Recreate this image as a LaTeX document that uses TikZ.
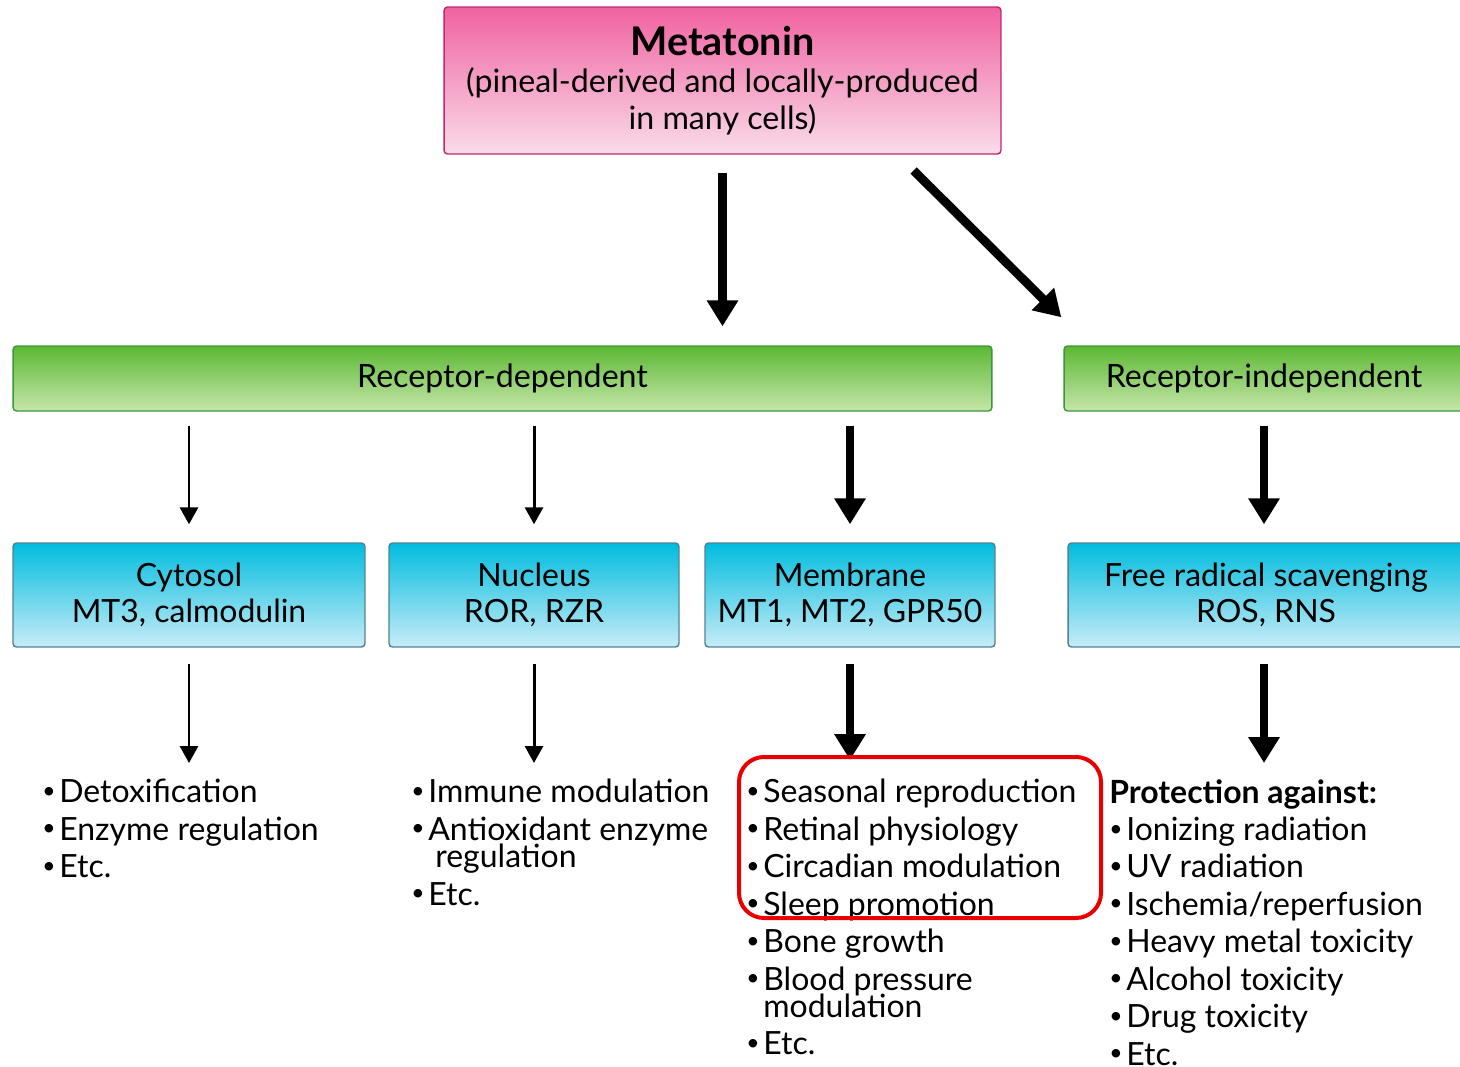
\documentclass[tikz,border=0pt]{standalone}
\usepackage{fontspec}
\setmainfont{Lato}
\usetikzlibrary{arrows.meta}
\definecolor{pinktop}{RGB}{240,98,160}
\definecolor{pinkbot}{RGB}{250,220,234}
\definecolor{pinkline}{RGB}{190,40,110}
\definecolor{greentop}{RGB}{92,184,52}
\definecolor{greenbot}{RGB}{198,230,170}
\definecolor{greenline}{RGB}{60,150,60}
\definecolor{bluetop}{RGB}{0,188,222}
\definecolor{bluebot}{RGB}{200,236,247}
\definecolor{blueline}{RGB}{80,130,150}
\definecolor{redline}{RGB}{232,0,0}
\newcommand{\bul}{\makebox[0.34cm][l]{\raisebox{0.14em}{\fontsize{13}{13}\selectfont\textbullet}}}
\newcommand{\cnt}{\hspace*{0.48cm}}
\tikzset{
  pinkbox/.style={draw=pinkline, line width=0.8pt, rounded corners=2pt, top color=pinktop, bottom color=pinkbot, align=center, font=\fontsize{18.3}{21}\selectfont},
  greenbox/.style={draw=greenline, line width=0.8pt, rounded corners=2pt, top color=greentop, bottom color=greenbot, minimum height=1.3cm, font=\fontsize{18.3}{20}\selectfont},
  bluebox/.style={draw=blueline, line width=0.8pt, rounded corners=2pt, top color=bluetop, bottom color=bluebot, minimum height=2.08cm, align=center, font=\fontsize{18.2}{20.8}\selectfont},
  bigarrow/.style={line width=5pt, -{Triangle[width=0.6cm,length=0.52cm]}},
  thinarrow/.style={line width=1.7pt, -{Triangle[width=0.36cm,length=0.34cm]}},
  itemlist/.style={anchor=north west, inner sep=0pt, align=left, font=\fontsize{18.2}{21.3}\selectfont}
}
\begin{document}
\begin{tikzpicture}[x=0.02cm,y=-0.02cm]
\useasboundingbox (0,0) rectangle (1460,1067);
\clip (0,0) rectangle (1460,1067);
\node [pinkbox, minimum width=11.14cm, minimum height=2.94cm] (top) at (722.5,80.5) {{\fontsize{22.5}{21}\selectfont\bfseries Metatonin}\\(pineal-derived and locally-produced\\in many cells)};
\node [greenbox, minimum width=19.58cm] (rd) at (502.5,378.5) {Receptor-dependent};
\node [greenbox, minimum width=8cm] (ri) at (1264,378.5) {Receptor-independent};
\node [bluebox, minimum width=7.04cm] (cyto) at (189,595) {Cytosol\\MT3, calmodulin};
\node [bluebox, minimum width=5.8cm] (nuc) at (534,595) {Nucleus\\ROR, RZR};
\node [bluebox, minimum width=5.8cm] (mem) at (850,595) {Membrane\\MT1, MT2, GPR50};
\node [bluebox, minimum width=7.92cm] (free) at (1266,595) {Free radical scavenging\\ROS, RNS};
\node [itemlist] (cytolist) at (42,779) {\bul Detoxification\\\bul Enzyme regulation\\\bul Etc.};
\node [itemlist] (nuclist) at (411,779) {\bul Immune modulation\\\bul Antioxidant enzyme\\[-0.2cm]\cnt regulation\\\bul Etc.};
\node [itemlist] (memlist) at (746,779) {\bul Seasonal reproduction\\\bul Retinal physiology\\\bul Circadian modulation\\\bul Sleep promotion\\\bul Bone growth\\\bul Blood pressure\\[-0.2cm]\hspace*{0.34cm}modulation\\\bul Etc.};
\node [itemlist] (freelist) at (1109,779) {\textbf{Protection against:}\\\bul Ionizing radiation\\\bul UV radiation\\\bul Ischemia/reperfusion\\\bul Heavy metal toxicity\\\bul Alcohol toxicity\\\bul Drug toxicity\\\bul Etc.};
\draw [bigarrow, shorten <=0.36cm, shorten >=0.38cm] (top.south) -- (top.south |- rd.north);
\draw [bigarrow, shorten <=0.45cm] ([xshift=-2.08cm]top.south east) -- ([xshift=-0.04cm,yshift=0.56cm]ri.north west);
\draw [thinarrow, shorten <=0.28cm, shorten >=0.36cm] (rd.south -| cyto.north) -- (cyto.north);
\draw [thinarrow, shorten <=0.28cm, shorten >=0.36cm] (rd.south -| nuc.north) -- (nuc.north);
\draw [bigarrow, shorten <=0.28cm, shorten >=0.36cm] (rd.south -| mem.north) -- (mem.north);
\draw [bigarrow, shorten <=0.28cm, shorten >=0.36cm] (ri.south) -- (ri.south |- free.north);
\draw [thinarrow, shorten <=0.32cm, shorten >=0.32cm] (cyto.south) -- (cyto.south |- cytolist.north);
\draw [thinarrow, shorten <=0.32cm, shorten >=0.32cm] (nuc.south) -- (nuc.south |- nuclist.north);
\draw [bigarrow, shorten <=0.32cm, shorten >=0.38cm] (mem.south) -- (mem.south |- memlist.north);
\draw [bigarrow, shorten <=0.32cm, shorten >=0.32cm] (ri.south |- free.south) -- (ri.south |- freelist.north);
\draw [redline, line width=0.08cm, rounded corners=0.5cm] (739,757) rectangle (1101,918);
\end{tikzpicture}
\end{document}
